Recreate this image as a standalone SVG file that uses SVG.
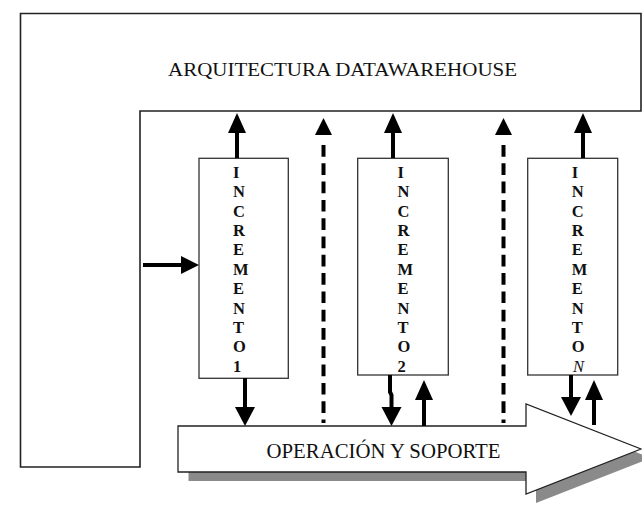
<svg xmlns="http://www.w3.org/2000/svg" xmlns:xlink="http://www.w3.org/1999/xlink" width="642" height="510" viewBox="0 0 642 510">
<style>
.frame{fill:#fff;stroke:#222;stroke-width:1.6}
.box{fill:#fff;stroke:#333;stroke-width:1.3}
.lbl{font-family:"Liberation Serif","Times New Roman",serif;fill:#111}
.vt{font-family:"Liberation Serif","Times New Roman",serif;font-weight:bold;font-size:16.5px;fill:#111}
.sh{stroke:#000;stroke-width:4;fill:none}
.dash{stroke:#000;stroke-width:4;fill:none;stroke-dasharray:11.7 6.6}
.head{fill:#000}
</style>
<defs>
<path id="hu" d="M0,0 L9,20 L-9,20 Z"/>
<path id="hd" d="M0,0 L10,-19 L-10,-19 Z"/>
<path id="hr" d="M0,0 L-18,-9 L-18,9 Z"/>
<path id="hus" d="M0,0 L8.5,17 L-8.5,17 Z"/>
</defs>
<rect width="642" height="510" fill="#fff"/>
<g id="arquitectura">
<path class="frame" d="M20.5,13.5 H641 V111 H140 V467 H20.5 Z"/>
<text class="lbl" x="168" y="76" font-size="19.5" textLength="349" lengthAdjust="spacingAndGlyphs">ARQUITECTURA DATAWAREHOUSE</text>
</g>
<g id="operacion">
<polygon points="188.5,435.5 536,435.5 536,413 651,458 536,503 536,481 188.5,481" fill="#8a8a8a"/>
<polygon points="178,426 526,426 526,404 641,449 526,494 526,472 178,472" fill="#fff" stroke="#222" stroke-width="1.3"/>
<text class="lbl" x="266.5" y="458" font-size="20.5" textLength="234" lengthAdjust="spacingAndGlyphs">OPERACIÓN Y SOPORTE</text>
</g>
<g id="incremento1">
<rect class="box" x="199" y="158.3" width="89.3" height="220"/>
<text class="vt" x="233"><tspan x="233" y="177.7">I</tspan><tspan x="233" dy="19.4">N</tspan><tspan x="233" dy="19.4">C</tspan><tspan x="233" dy="19.4">R</tspan><tspan x="233" dy="19.4">E</tspan><tspan x="233" dy="19.4">M</tspan><tspan x="233" dy="19.4">E</tspan><tspan x="233" dy="19.4">N</tspan><tspan x="233" dy="19.4">T</tspan><tspan x="233" dy="19.4">O</tspan><tspan x="233" dy="19.4">1</tspan></text>
</g>
<g id="incremento2">
<rect class="box" x="357.7" y="158.3" width="90.6" height="216.7"/>
<text class="vt" x="397.5"><tspan x="397.5" y="177.7">I</tspan><tspan x="397.5" dy="19.4">N</tspan><tspan x="397.5" dy="19.4">C</tspan><tspan x="397.5" dy="19.4">R</tspan><tspan x="397.5" dy="19.4">E</tspan><tspan x="397.5" dy="19.4">M</tspan><tspan x="397.5" dy="19.4">E</tspan><tspan x="397.5" dy="19.4">N</tspan><tspan x="397.5" dy="19.4">T</tspan><tspan x="397.5" dy="19.4">O</tspan><tspan x="397.5" dy="19.4">2</tspan></text>
</g>
<g id="incrementoN">
<rect class="box" x="527.7" y="158.3" width="90" height="216.7"/>
<text class="vt" x="571.7"><tspan x="571.7" y="177.7">I</tspan><tspan x="571.7" dy="19.4">N</tspan><tspan x="571.7" dy="19.4">C</tspan><tspan x="571.7" dy="19.4">R</tspan><tspan x="571.7" dy="19.4">E</tspan><tspan x="571.7" dy="19.4">M</tspan><tspan x="571.7" dy="19.4">E</tspan><tspan x="571.7" dy="19.4">N</tspan><tspan x="571.7" dy="19.4">T</tspan><tspan x="571.7" dy="19.4">O</tspan><tspan x="573" dy="19.4" font-style="italic" font-weight="normal">N</tspan></text>
</g>
<g id="connectors">
<path class="sh" d="M237,158 V132"/><use class="head" href="#hu" x="237" y="113"/>
<path class="sh" d="M393,158 V132"/><use class="head" href="#hu" x="393" y="113"/>
<path class="sh" d="M583,158 V132"/><use class="head" href="#hu" x="583" y="113"/>
<path class="sh" d="M143,265 H182"/><use class="head" href="#hr" x="199" y="265"/>
<path class="dash" d="M323.5,145 V423"/><use class="head" href="#hus" x="323.5" y="118"/>
<path class="dash" d="M503.5,145 V423"/><use class="head" href="#hus" x="503.5" y="118"/>
<path class="sh" d="M245,378 V408"/><use class="head" href="#hd" x="245" y="426"/>
<path class="sh" d="M390,375 V392 L391.5,395 V408"/><use class="head" href="#hd" x="391.5" y="426"/>
<path class="sh" d="M424,426 V397"/><use class="head" href="#hu" x="424" y="380"/>
<path class="sh" d="M571,375 V398"/><use class="head" href="#hd" x="571" y="416"/>
<path class="sh" d="M594,425 V397"/><use class="head" href="#hu" x="594" y="380"/>
</g>
</svg>
